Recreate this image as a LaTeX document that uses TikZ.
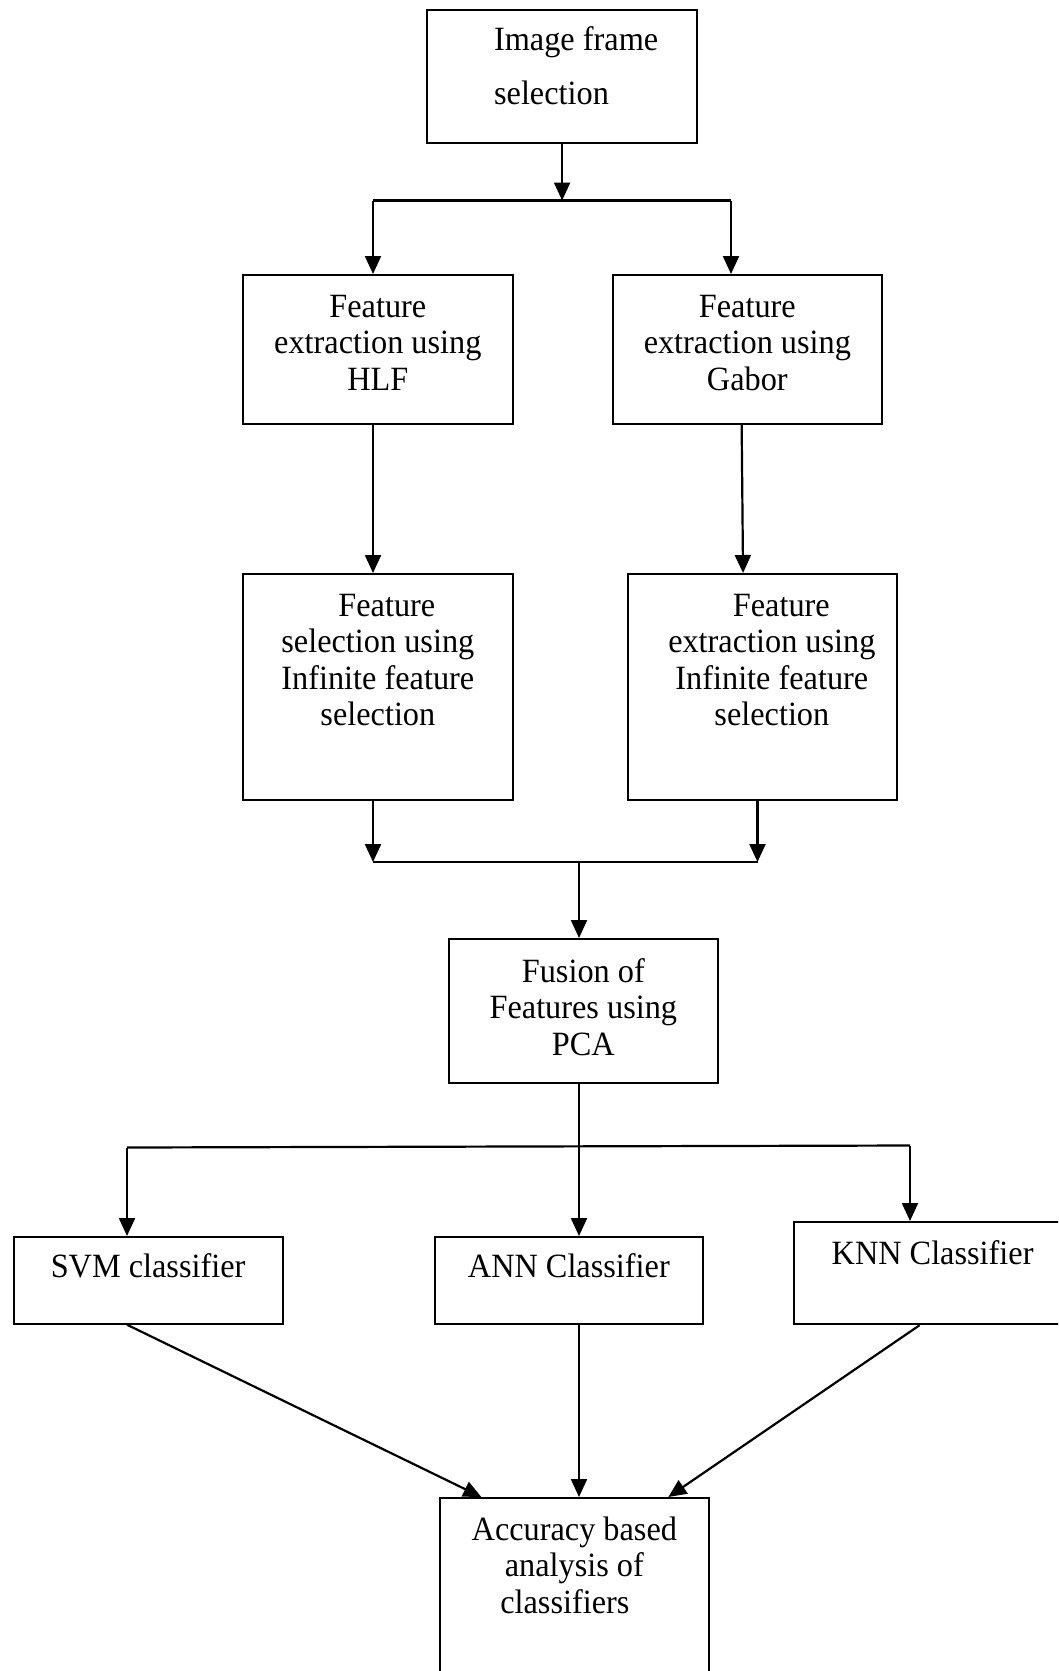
\documentclass[tikz,border=0pt]{standalone}
\usepackage{fontspec}
\setmainfont{Liberation Serif}[FakeStretch=0.95]
\usetikzlibrary{arrows.meta,calc}

% text of a box: width, height, first baseline below the top
\newcommand{\boxtext}[4][42pt]{\parbox[t][#3][t]{#2}{\centering\rule{0pt}{#1}#4}}

\begin{document}
\begin{tikzpicture}[x=1pt,y=-1pt]

	\tikzset{flowbox/.style={draw, line width=2.2pt, inner sep=0pt, anchor=north west, font=\fontsize{34pt}{36.5pt}\selectfont},
		link/.style={line width=2.2pt},
		arrow/.style={line width=2.2pt, -{Triangle[length=18pt,width=16pt]}}}

	\useasboundingbox (0,0) rectangle (1058,1671);
	\clip (0,0) rectangle (1058,1671);

	\node[flowbox] (frame) at (426,8.5) {\parbox[t][133pt][t]{270pt}{\raggedright\leftskip=67pt\baselineskip=54pt\rule{0pt}{41pt}Image frame\\selection}};

	\node[flowbox] (hlf) at (242,274) {\boxtext{269.5pt}{149pt}{Feature\\extraction using\\HLF}};
	\node[flowbox] (gabor) at (611.5,274) {\boxtext{269.5pt}{149pt}{Feature\\extraction using\\Gabor}};

	\node[flowbox] (selhlf) at (242,573) {\boxtext{269.5pt}{226pt}{\hspace*{18pt}Feature\\selection using\\Infinite feature\\selection}};
	\node[flowbox] (selgabor) at (626.5,573) {\boxtext{269.5pt}{226pt}{\hspace*{38pt}Feature\\\hspace*{19pt}extraction using\\\hspace*{19pt}Infinite feature\\\hspace*{19pt}selection}};

	\node[flowbox] (fusion) at (447.5,938) {\boxtext[43pt]{269.5pt}{143.5pt}{Fusion of\\Features using\\PCA}};

	\node[flowbox] (svm) at (12.5,1236) {\boxtext[40pt]{269pt}{86.5pt}{SVM classifier}};
	\node[flowbox] (ann) at (433.5,1236) {\boxtext[40pt]{268.5pt}{86.5pt}{ANN Classifier}};
	\node[flowbox] (knn) at (792.5,1221) {\boxtext{278pt}{102pt}{KNN Classifier}};

	\node[flowbox] (accuracy) at (439,1497) {\boxtext{268.5pt}{200pt}{Accuracy based\\analysis of\hspace*{19pt}\\classifiers\hspace*{19pt}}};

	% split after frame selection
	\coordinate (splitL) at (373,200.5);
	\coordinate (splitR) at (731,200.5);
	\draw[arrow] (frame.south) -- (frame.south |- splitL);
	\draw[link] (splitL) -- (splitR);
	\draw[arrow] (splitL) -- (splitL |- hlf.north);
	\draw[arrow] (splitR) -- (splitR |- gabor.north);

	\draw[arrow] (hlf.south -| splitL) -- (selhlf.north -| splitL);
	\draw[arrow] ([xshift=-5.7pt]gabor.south) -- ([xshift=-19.3pt]selgabor.north);

	% join before fusion
	\coordinate (joinL) at (373,862);
	\coordinate (joinR) at (757.5,862);
	\coordinate (join) at (579,862);
	\draw[arrow] (selhlf.south -| joinL) -- (joinL);
	\draw[arrow] (selgabor.south -| joinR) -- (joinR);
	\draw[link] (joinL) -- (joinR);
	\draw[arrow] (join) -- (join |- fusion.north);

	% branch to classifiers
	\coordinate (branch) at (579,1146.5);
	\coordinate (branchL) at (127,1147.5);
	\coordinate (branchR) at (910,1145.5);
	\draw[arrow] (fusion.south -| branch) -- (branch |- ann.north);
	\draw[link] (branchL) -- (branchR);
	\draw[arrow] (branchL) -- (branchL |- svm.north);
	\draw[arrow] (branchR) -- (branchR |- knn.north);

	\draw[arrow] (svm.south -| branchL) -- ([xshift=-93pt]accuracy.north);
	\draw[arrow] (ann.south -| branch) -- (accuracy.north -| branch);
	\draw[arrow] ([xshift=-13pt]knn.south) -- ([xshift=94pt]accuracy.north);

\end{tikzpicture}
\end{document}
